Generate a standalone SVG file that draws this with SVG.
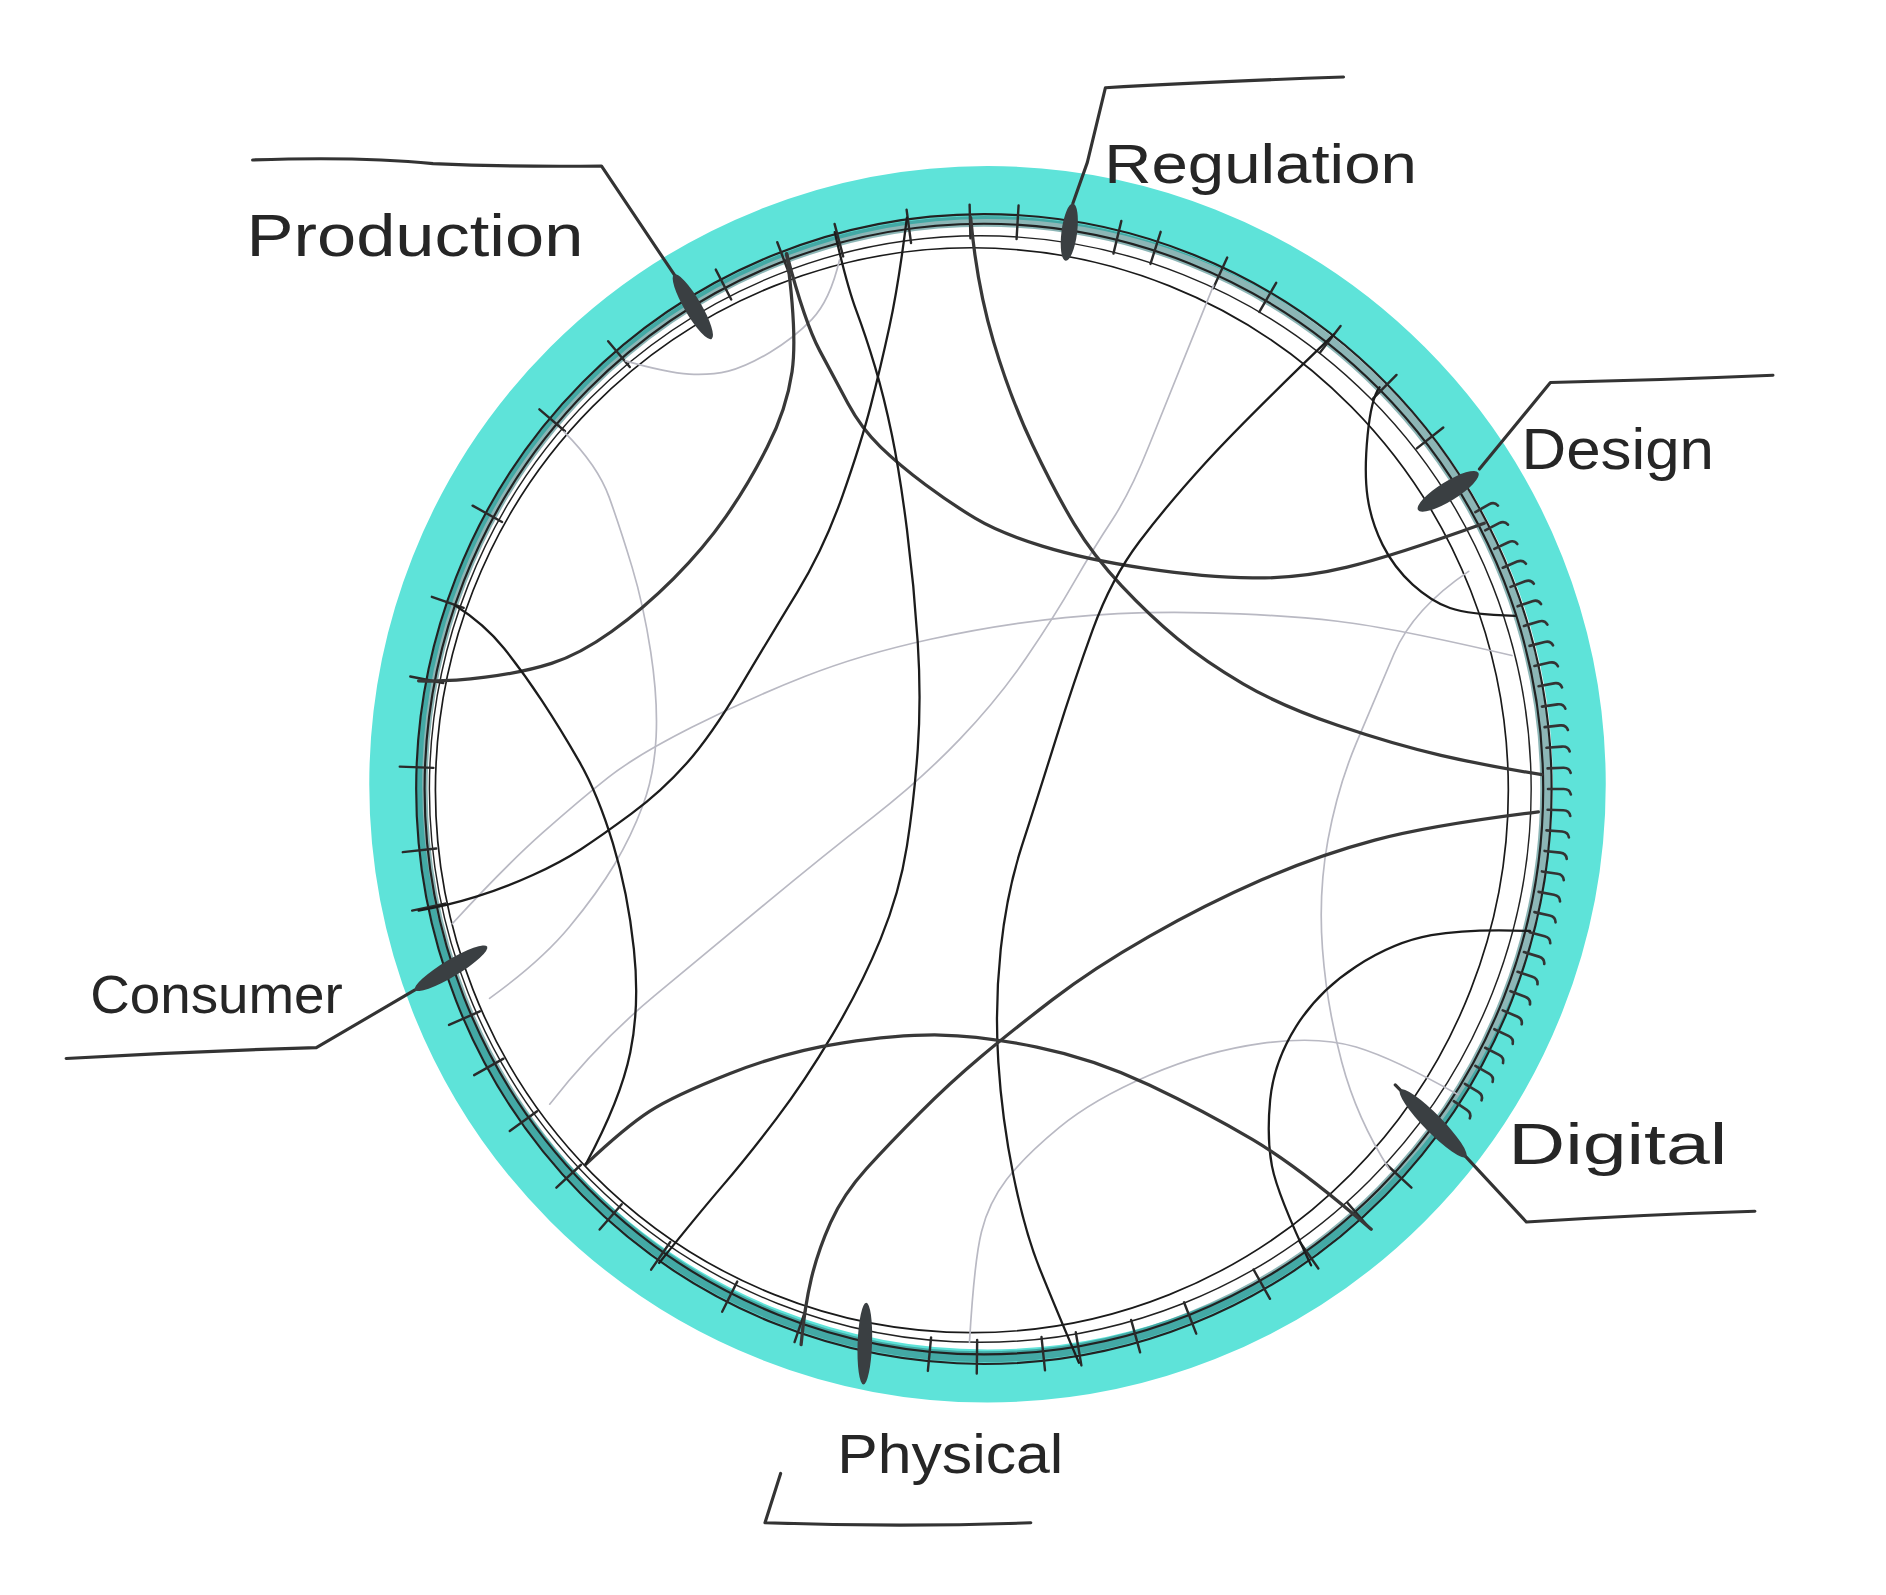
<svg xmlns="http://www.w3.org/2000/svg" width="1886" height="1595" viewBox="0 0 1886 1595">
<style>
.chord{fill:none;stroke:#1c1c1c;stroke-width:1.9;stroke-linecap:round;stroke-linejoin:round}
.thick{stroke:#383838;stroke-width:2.7}
.grey{fill:none;stroke:#b9b9c3;stroke-width:1.4;stroke-linecap:round}
.ring{fill:none;stroke:#222;stroke-width:1.8}
.blob{fill:#3a3f42}
.leader{fill:none;stroke:#333;stroke-width:2.6;stroke-linecap:round;stroke-linejoin:round}
.label{font-family:"Liberation Sans","DejaVu Sans",sans-serif;fill:#262626}
</style>
<defs>
<path id="t" d="M458 0 L486 0" stroke="#2a2a2a" stroke-width="2" stroke-linecap="round" fill="none"/>
<path id="h" d="M469 0 L482 0 Q487 0 488 4.5" stroke="#333" stroke-width="2.2" stroke-linecap="round" fill="none"/>
</defs>
<rect width="1886" height="1595" fill="#ffffff"/>
<g transform="scale(1.20281)">
<g id="ring">
<circle cx="821" cy="652" r="492" fill="none" stroke="#5ee3d9" stroke-width="44"/>
<ellipse cx="818" cy="656" rx="467" ry="472" fill="none" stroke="#2d7a7a" stroke-width="9" opacity="0.55"/>
<ellipse class="ring" cx="818" cy="656" rx="472" ry="478"/>
<ellipse class="ring" cx="818" cy="656" rx="465" ry="470"/>
<ellipse cx="815" cy="656" rx="458" ry="460" fill="none" stroke="#222" stroke-width="1.2"/>
<ellipse cx="808" cy="657" rx="446" ry="451" fill="none" stroke="#1a1a1a" stroke-width="1.4"/>
<g transform="translate(818 656)">
<use href="#t" transform="rotate(-160.8)"/><use href="#t" transform="rotate(-151)"/><use href="#t" transform="rotate(-139.5)"/><use href="#t" transform="rotate(-130)"/><use href="#t" transform="rotate(-117.3)"/><use href="#t" transform="rotate(-110.7)"/><use href="#t" transform="rotate(-104.8)"/><use href="#t" transform="rotate(-97.6)"/><use href="#t" transform="rotate(-91.4)"/><use href="#t" transform="rotate(-86.6)"/><use href="#t" transform="rotate(-76.4)"/><use href="#t" transform="rotate(-72.4)"/><use href="#t" transform="rotate(-65.4)"/><use href="#t" transform="rotate(-60)"/><use href="#t" transform="rotate(-52.4)"/><use href="#t" transform="rotate(-45.1)"/><use href="#t" transform="rotate(-38.2)"/>
<use href="#t" transform="rotate(43)"/><use href="#t" transform="rotate(48.7)"/><use href="#t" transform="rotate(55.1)"/><use href="#t" transform="rotate(60.7)"/><use href="#t" transform="rotate(68.7)"/><use href="#t" transform="rotate(74.5)"/><use href="#t" transform="rotate(80.4)"/><use href="#t" transform="rotate(84)"/><use href="#t" transform="rotate(90.7)"/><use href="#t" transform="rotate(95.5)"/><use href="#t" transform="rotate(108.9)"/><use href="#t" transform="rotate(116.6)"/><use href="#t" transform="rotate(124.7)"/><use href="#t" transform="rotate(131.1)"/><use href="#t" transform="rotate(137)"/><use href="#t" transform="rotate(144.2)"/><use href="#t" transform="rotate(150.7)"/><use href="#t" transform="rotate(156.2)"/><use href="#t" transform="rotate(168)"/><use href="#t" transform="rotate(173.8)"/><use href="#t" transform="rotate(-177.8)"/><use href="#t" transform="rotate(-168.9)"/>
<use href="#h" transform="rotate(-29.4)"/><use href="#h" transform="rotate(-27.3)"/><use href="#h" transform="rotate(-25.2)"/><use href="#h" transform="rotate(-23.1)"/><use href="#h" transform="rotate(-21)"/><use href="#h" transform="rotate(-18.9)"/><use href="#h" transform="rotate(-16.8)"/><use href="#h" transform="rotate(-14.7)"/><use href="#h" transform="rotate(-12.6)"/><use href="#h" transform="rotate(-10.5)"/><use href="#h" transform="rotate(-8.4)"/><use href="#h" transform="rotate(-6.3)"/><use href="#h" transform="rotate(-4.2)"/><use href="#h" transform="rotate(-2.1)"/><use href="#h" transform="rotate(0)"/><use href="#h" transform="rotate(2.1)"/><use href="#h" transform="rotate(4.2)"/><use href="#h" transform="rotate(6.3)"/><use href="#h" transform="rotate(8.4)"/><use href="#h" transform="rotate(10.5)"/><use href="#h" transform="rotate(12.6)"/><use href="#h" transform="rotate(14.7)"/><use href="#h" transform="rotate(16.8)"/><use href="#h" transform="rotate(18.9)"/><use href="#h" transform="rotate(21)"/><use href="#h" transform="rotate(23.1)"/><use href="#h" transform="rotate(25.2)"/><use href="#h" transform="rotate(27.3)"/><use href="#h" transform="rotate(29.4)"/><use href="#h" transform="rotate(31.5)"/><use href="#h" transform="rotate(33.6)"/>
</g>
</g>
<g id="connectors">
<path class="grey" d="M1009,237 Q971,331 955.5,370 Q940,409 924.5,432.5 Q909,456 893,484 Q877,512 853.5,546.5 Q830,581 798,614.5 Q766,648 725.5,679.5 Q685,711 638,750 Q591,789 544,828 Q497,867 457,918"/>
<path class="grey" d="M1257,545 Q1159,522 1112,516.5 Q1065,511 1002.5,509.5 Q940,508 885.5,513.5 Q831,519 773.5,531.5 Q716,544 669,562.5 Q622,581 575.5,604.5 Q529,628 505.5,646.5 Q482,665 451,692.5 Q420,720 376,768"/>
<path class="grey" d="M469,359 Q497,387 506.5,413.5 Q516,440 525.5,471.5 Q535,503 541,542 Q547,581 545.5,612.5 Q544,644 534.5,669.5 Q525,695 511,718.5 Q497,742 473.5,770.5 Q450,799 407,830"/>
<path class="grey" d="M698,216 Q690,250 675,265.5 Q660,281 640,293 Q620,305 605.5,308.5 Q591,312 573,311 Q555,310 520,300"/>
<path class="grey" d="M1221,475 Q1175,506 1159,543.5 Q1143,581 1127.5,618 Q1112,655 1104,698.5 Q1096,742 1099.5,789 Q1103,836 1115.5,883 Q1128,930 1155,972"/>
<path class="grey" d="M806,1116 Q810,1048 816,1024 Q822,1000 837,980.5 Q852,961 880.5,937.5 Q909,914 955.5,894 Q1002,874 1049,867.5 Q1096,861 1127.5,870.5 Q1159,880 1212,910"/>
<path class="chord thick" d="M654,211 Q663,278 658.5,309 Q654,340 638,371.5 Q622,403 603.5,429.5 Q585,456 560,481 Q535,506 508.5,525 Q482,544 458.5,551.5 Q435,559 403.5,563 Q372,567 348,566"/>
<path class="chord thick" d="M654,211 Q669,268 681.5,291.5 Q694,315 705,335.5 Q716,356 732,371.5 Q748,387 769.5,403 Q791,419 811,431 Q831,443 866.5,454 Q902,465 952,472.5 Q1002,480 1041.5,480.5 Q1081,481 1120,471.5 Q1159,462 1234,435"/>
<path class="chord" d="M754,181 Q747,237 739.5,271.5 Q732,306 724,337 Q716,368 700.5,412 Q685,456 663,492 Q641,528 616,570 Q591,612 570.5,635 Q550,658 525,676.5 Q500,695 483,706 Q466,717 443,727.5 Q420,738 396,745.5 Q372,753 348,757"/>
<path class="chord" d="M694,193 Q704,237 712,258.5 Q720,280 727.5,305 Q735,330 741.5,361.5 Q748,393 754,440 Q760,487 763,534 Q766,581 763,623 Q760,665 754,703.5 Q748,742 732,781 Q716,820 692.5,859.5 Q669,899 645.5,930 Q622,961 601,985.5 Q580,1010 548,1050"/>
<path class="chord thick" d="M807,181 Q812,237 826,284 Q840,331 858.5,370 Q877,409 893,435.5 Q909,462 932.5,487 Q956,512 979,531 Q1002,550 1033.5,568.5 Q1065,587 1112,603 Q1159,619 1198,628 Q1237,637 1282,644"/>
<path class="chord" d="M1109,278 Q1034,350 1002.5,384.5 Q971,419 947.5,450 Q924,481 908.5,523.5 Q893,566 877.5,615.5 Q862,665 849.5,703.5 Q837,742 832,789 Q827,836 830,883 Q833,930 842.5,977 Q852,1024 864.5,1055 Q877,1086 897,1133"/>
<path class="chord" d="M1147,322 Q1140,331 1137,362 Q1134,393 1137,413.5 Q1140,434 1149.5,453 Q1159,472 1174.5,486 Q1190,500 1205.5,505.5 Q1221,511 1260,512"/>
<path class="chord thick" d="M1279,675 Q1190,686 1143,698.5 Q1096,711 1049,731.5 Q1002,752 955.5,778.5 Q909,805 874.5,831.5 Q840,858 815,879 Q790,900 765,925 Q740,950 720.5,971.5 Q701,993 690.5,1016.5 Q680,1040 674.5,1063 Q669,1086 666,1118"/>
<path class="chord" d="M1272,774 Q1221,772 1190,777.5 Q1159,783 1127.5,803.5 Q1096,824 1077.5,853.5 Q1059,883 1056,914.5 Q1053,946 1057.5,969.5 Q1062,993 1090,1052"/>
<path class="chord thick" d="M487,968 Q520,937 540,924 Q560,911 607,892.5 Q654,874 701,867 Q748,860 781.5,860.5 Q815,861 862,870.5 Q909,880 955.5,902 Q1002,924 1041.5,947.5 Q1081,971 1140,1022"/>
<path class="chord" d="M378,503 Q403,519 419,539 Q435,559 450.5,582.5 Q466,606 481.5,633 Q497,660 509.5,701 Q522,742 527,789 Q532,836 524,875 Q516,914 487,968"/>
</g>
<g id="node-production">
<path class="leader" d="M210,133 Q300,130 360,136 Q430,139 500,138 L561,229"/>
<ellipse class="blob" cx="576" cy="255" rx="31" ry="7" transform="rotate(59.7 576 255)"/>
<text class="label" x="205" y="213" font-size="50" textLength="280" lengthAdjust="spacingAndGlyphs">Production</text>
</g>
<g id="node-regulation">
<path class="leader" d="M1117,64 Q1000,68 919,73 L904,135 L892,169"/>
<ellipse class="blob" cx="889" cy="193" rx="24" ry="6.5" transform="rotate(97.3 889 193)"/>
<text class="label" x="918" y="152" font-size="46" textLength="260" lengthAdjust="spacingAndGlyphs">Regulation</text>
</g>
<g id="node-design">
<path class="leader" d="M1474,312 Q1380,316 1289,318 L1230,390"/>
<ellipse class="blob" cx="1204" cy="408.5" rx="29.5" ry="8" transform="rotate(148.2 1204 408.5)"/>
<text class="label" x="1265" y="390" font-size="48" textLength="160" lengthAdjust="spacingAndGlyphs">Design</text>
</g>
<g id="node-digital">
<path class="leader" d="M1160,902 L1219,962 L1269,1016 Q1360,1010 1459,1007"/>
<ellipse class="blob" cx="1191.5" cy="934" rx="39" ry="7.5" transform="rotate(45.5 1191.5 934)"/>
<text class="label" x="1254" y="968" font-size="48" textLength="182" lengthAdjust="spacingAndGlyphs">Digital</text>
</g>
<g id="node-physical">
<path class="leader" d="M649,1225 L636,1266 Q750,1270 857,1266"/>
<ellipse class="blob" cx="719" cy="1117" rx="34" ry="6" transform="rotate(92 719 1117)"/>
<text class="label" x="696" y="1225" font-size="46" textLength="188" lengthAdjust="spacingAndGlyphs">Physical</text>
</g>
<g id="node-consumer">
<path class="leader" d="M345,823 L263,871 Q160,874 55,880"/>
<ellipse class="blob" cx="375" cy="805" rx="35" ry="7" transform="rotate(149 375 805)"/>
<text class="label" x="75" y="842" font-size="44" textLength="210" lengthAdjust="spacingAndGlyphs">Consumer</text>
</g>
</g>
</svg>
